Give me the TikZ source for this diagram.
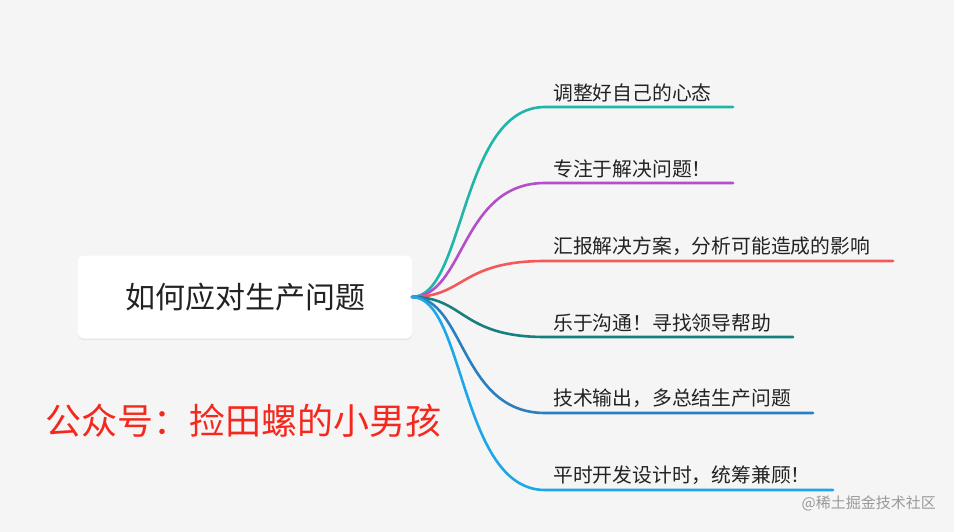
\documentclass[tikz,border=0pt]{standalone}
\usepackage{fontspec}
\setmainfont{Noto Sans CJK SC}
\usetikzlibrary{shadows}
\definecolor{bg}{HTML}{F5F5F5}
\definecolor{c1}{HTML}{1FB5A8}
\definecolor{c2}{HTML}{B44FC9}
\definecolor{c3}{HTML}{F25A5A}
\definecolor{c4}{HTML}{17807E}
\definecolor{c5}{HTML}{2A7FC0}
\definecolor{c6}{HTML}{1EA7E8}
\definecolor{redtxt}{HTML}{F5281E}
\definecolor{txt}{HTML}{222222}
\tikzset{
  leaf/.style={anchor=south west,inner sep=2pt,font=\fontsize{19.8}{22}\selectfont,text=txt},
  br/.style={line width=2.6pt,line cap=round},
}
\begin{document}
\begin{tikzpicture}[x=1pt,y=-1pt]
\fill[bg] (0,0) rectangle (954,532);
\useasboundingbox (0,0) rectangle (954,532);
\node[draw=none,fill=white,rounded corners=6pt,minimum width=334pt,minimum height=83pt,
  drop shadow={opacity=0.12,shadow xshift=0pt,shadow yshift=-1.5pt},
  font=\fontsize{30}{34}\selectfont,text=txt] (root) at (245,297) {如何应对生产问题};
\coordinate (s) at (412,297);
\foreach \n/\y/\e/\c/\t in {1/107/733/c1/调整好自己的心态,
  2/183/733/c2/专注于解决问题！,
  3/261/893/c3/{汇报解决方案，分析可能造成的影响},
  4/337/793/c4/乐于沟通！寻找领导帮助,
  5/413/813/c5/{技术输出，多总结生产问题},
  6/490/833/c6/{平时开发设计时，统筹兼顾！}}{
  \coordinate (a\n) at (545,\y);
  \coordinate (e\n) at (\e,\y);
  \draw[br,draw=\c] (s) .. controls (465,297) and (460,\y) .. (a\n) -- (e\n);
  \node[leaf] (t\n) at (551,\y-3) {\t};
}
\node[text=redtxt,font=\fontsize{36}{40}\selectfont,anchor=west,inner sep=0] (pub) at (45,421) {公众号：捡田螺的小男孩};
\node[text=gray!80,font=\fontsize{15}{18}\selectfont,anchor=east,inner sep=0] (wm) at (936,503) {@稀土掘金技术社区};
\end{tikzpicture}
\end{document}
